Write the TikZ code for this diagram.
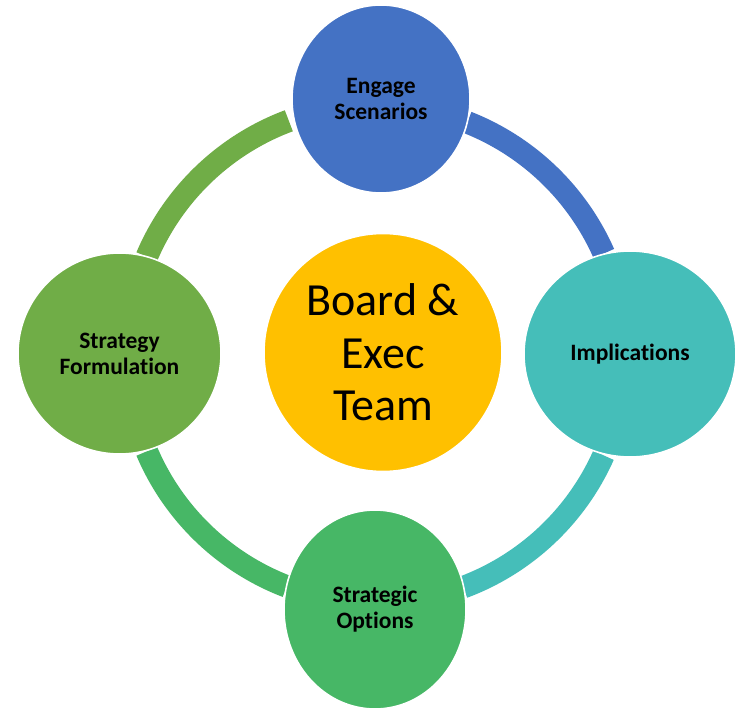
\documentclass[tikz,border=0pt]{standalone}
\usetikzlibrary{shapes.geometric}
\usepackage{fontspec}
\setmainfont[Ligatures=NoCommon,RawFeature={-liga;-clig}]{Carlito}
\definecolor{cblue}{HTML}{4472C4}
\definecolor{cteal}{HTML}{45BEB9}
\definecolor{cgreen}{HTML}{47B766}
\definecolor{colive}{HTML}{70AD47}
\definecolor{cgold}{HTML}{FFC000}
\begin{document}
\begin{tikzpicture}[x=1pt,y=1pt,
  bubble/.style={ellipse,draw=white,line width=1.6pt,inner sep=0pt,align=center,
    font=\fontsize{23.5}{26}\selectfont\bfseries},
  hub/.style={circle,draw=white,line width=1.6pt,inner sep=0pt,align=center,
    font=\fontsize{46}{52.5}\selectfont},
  band/.style={line width=22.5pt,line cap=butt}]
\fill[white] (0,0) rectangle (743,721);
\useasboundingbox (0,0) rectangle (743,721);
\coordinate (ring) at (376,367);
% arcs (drawn first, under the circles)
\draw[band,cblue]  ([shift={(23.8:249)}]ring) arc[start angle=23.8,end angle=68.5,radius=249];
\draw[band,cteal]  ([shift={(-69.5:249)}]ring) arc[start angle=-69.5,end angle=-24,radius=249];
\draw[band,cgreen] ([shift={(203:249)}]ring) arc[start angle=203,end angle=249,radius=249];
\draw[band,colive] ([shift={(110.5:249)}]ring) arc[start angle=110.5,end angle=157,radius=249];
% circles
\node[hub,fill=cgold,minimum size=238pt] (hub) at (383,368.5) {Board \&\\Exec\\Team};
\node[bubble,fill=cblue,minimum width=178pt,minimum height=188pt] (top) at (381,622) {Engage\\Scenarios};
\node[bubble,fill=cteal,minimum width=212pt,minimum height=206pt] (right) at (630,367) {Implications};
\node[bubble,fill=cgreen,minimum width=182pt,minimum height=199pt] (bottom) at (375,111.5) {Strategic\\Options};
\node[bubble,fill=colive,minimum width=203pt,minimum height=201pt] (left) at (119.5,367.5) {Strategy\\Formulation};
\end{tikzpicture}
\end{document}
